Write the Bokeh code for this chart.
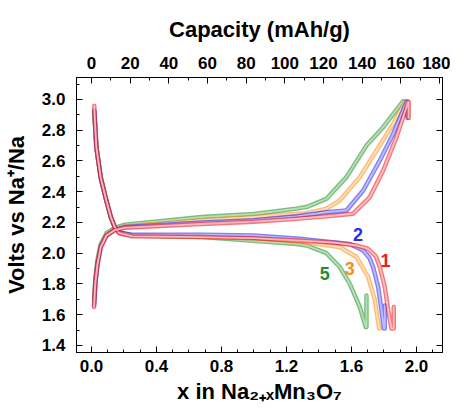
from bokeh.plotting import figure
from bokeh.models import Range1d, LinearAxis, Label, FixedTicker, NumeralTickFormatter
from bokeh.embed import file_html
from bokeh.resources import INLINE

# ---- data (x in Na2+xMn3O7, voltage) ----
# discharge curves
dis1_x = [0.017, 0.02, 0.03, 0.057, 0.092, 0.119, 0.143, 0.17, 0.25, 0.68, 1.0, 1.32, 1.5, 1.63, 1.70, 1.75, 1.774, 1.805, 1.826, 1.846, 1.86, 1.86]
dis1_y = [2.96, 2.88, 2.69, 2.49, 2.34, 2.235, 2.17, 2.13, 2.11, 2.105, 2.098, 2.08, 2.068, 2.05, 2.03, 1.98, 1.91, 1.78, 1.628, 1.51, 1.51, 1.65]
dis2_x = [0.017, 0.02, 0.03, 0.057, 0.092, 0.119, 0.143, 0.17, 0.25, 0.68, 1.0, 1.32, 1.59, 1.672, 1.71, 1.733, 1.764, 1.785, 1.799, 1.805, 1.805]
dis2_y = [2.93, 2.88, 2.69, 2.49, 2.34, 2.235, 2.17, 2.135, 2.12, 2.12, 2.115, 2.09, 2.06, 2.018, 1.97, 1.91, 1.78, 1.628, 1.51, 1.51, 1.66]
dis3_x = [0.017, 0.03, 0.057, 0.092, 0.119, 0.143, 0.17, 0.25, 0.68, 1.0, 1.32, 1.528, 1.631, 1.703, 1.744, 1.77, 1.775]
dis3_y = [2.92, 2.69, 2.49, 2.34, 2.235, 2.17, 2.135, 2.115, 2.11, 2.1, 2.07, 2.04, 1.975, 1.845, 1.693, 1.51, 1.51]
dis5_x = [0.017, 0.03, 0.057, 0.092, 0.119, 0.143, 0.17, 0.25, 0.68, 1.097, 1.26, 1.323, 1.446, 1.528, 1.59, 1.651, 1.688, 1.692, 1.692]
dis5_y = [2.92, 2.69, 2.49, 2.34, 2.235, 2.17, 2.135, 2.115, 2.105, 2.072, 2.06, 2.05, 2.0, 1.91, 1.80, 1.65, 1.52, 1.52, 1.725]

# charge curves
chg1_x = [0.016, 0.02, 0.025, 0.037, 0.057, 0.092, 0.143, 0.205, 0.677, 1.0, 1.26, 1.446, 1.61, 1.713, 1.795, 1.877, 1.949, 1.952, 1.952]
chg1_y = [1.65, 1.75, 1.82, 1.93, 2.04, 2.115, 2.15, 2.165, 2.19, 2.205, 2.224, 2.24, 2.257, 2.365, 2.538, 2.755, 2.985, 2.985, 2.88]
chg2_x = [0.016, 0.025, 0.037, 0.057, 0.092, 0.143, 0.205, 0.677, 1.0, 1.26, 1.446, 1.569, 1.672, 1.774, 1.857, 1.938, 1.944, 1.944]
chg2_y = [1.66, 1.82, 1.93, 2.04, 2.115, 2.152, 2.17, 2.20, 2.215, 2.24, 2.267, 2.278, 2.408, 2.603, 2.777, 2.985, 2.985, 2.88]
chg3_x = [0.016, 0.025, 0.037, 0.057, 0.092, 0.143, 0.205, 0.677, 1.0, 1.26, 1.323, 1.446, 1.528, 1.651, 1.754, 1.857, 1.932, 1.936, 1.936]
chg3_y = [1.68, 1.83, 1.94, 2.05, 2.12, 2.155, 2.175, 2.215, 2.235, 2.257, 2.26, 2.29, 2.343, 2.495, 2.668, 2.842, 2.99, 2.99, 2.90]
chg5_x = [0.016, 0.025, 0.037, 0.057, 0.092, 0.143, 0.205, 0.677, 1.0, 1.26, 1.323, 1.446, 1.569, 1.692, 1.795, 1.918, 1.922]
chg5_y = [1.70, 1.85, 1.96, 2.06, 2.13, 2.165, 2.185, 2.235, 2.255, 2.29, 2.30, 2.354, 2.495, 2.70, 2.82, 2.99, 2.95]

cycle_names = ["5", "3", "2", "1"]
label_x = [1.436, 1.59, 1.64, 1.81]
label_y = [1.866, 1.90, 2.12, 1.95]

x_ticks = [0.0, 0.4, 0.8, 1.2, 1.6, 2.0]
x_minor = [-0.1, 0.1, 0.2, 0.3, 0.5, 0.6, 0.7, 0.9, 1.0, 1.1, 1.3, 1.4, 1.5, 1.7, 1.8, 1.9, 2.1]
y_ticks = [1.4, 1.6, 1.8, 2.0, 2.2, 2.4, 2.6, 2.8, 3.0]
y_minor = [1.5, 1.7, 1.9, 2.1, 2.3, 2.5, 2.7, 2.9, 3.1]
cap_ticks = [0, 20, 40, 60, 80, 100, 120, 140, 160, 180]
cap_minor = [10, 30, 50, 70, 90, 110, 130, 150, 170]
cap_per_x = 84.05  # mAh/g per unit x

# ---- styling ----
FONT = "Liberation Sans"
edge = {"1": "#ec1c24", "2": "#2a2af2", "3": "#f7901e", "5": "#23902a"}
fill = {"1": "#fac4ca", "2": "#c4c4ff", "3": "#ffe0b8", "5": "#bfe3bf"}

x0, x1 = -0.0923, 2.160
y0, y1 = 1.354, 3.143

p = figure(frame_width=366, frame_height=275, output_backend="svg", toolbar_location=None,
           x_range=Range1d(x0, x1), y_range=Range1d(y0, y1),
           min_border_left=76, min_border_top=77, min_border_bottom=40, min_border_right=8)
p.grid.visible = False
p.outline_line_color = "black"
p.outline_line_width = 1
p.background_fill_color = "white"
p.border_fill_color = "white"

p.extra_x_ranges = {"cap": Range1d(x0 * cap_per_x, x1 * cap_per_x)}

def style_axis(ax, show_labels=True):
    ax.axis_line_color = "black"
    ax.major_tick_in = 6
    ax.major_tick_out = 0
    ax.minor_tick_in = 3
    ax.minor_tick_out = 0
    ax.major_tick_line_color = "black"
    ax.minor_tick_line_color = "black"
    ax.major_label_text_font = FONT
    ax.major_label_text_font_style = "bold"
    ax.major_label_text_font_size = "17px"
    ax.major_label_text_color = "black"
    ax.axis_label_text_font = FONT
    ax.axis_label_text_font_style = "bold"
    ax.axis_label_text_font_size = "22px"
    ax.axis_label_text_color = "black"
    if not show_labels:
        ax.major_label_text_font_size = "0px"
        ax.major_label_text_color = None

xa = p.xaxis[0]
style_axis(xa)
xa.ticker = FixedTicker(ticks=x_ticks, minor_ticks=x_minor)
xa.formatter = NumeralTickFormatter(format="0.0")
xa.axis_label = "x in Na₂₊ₓMn₃O₇"
xa.major_label_standoff = 7
xa.axis_label_standoff = 4

ya = p.yaxis[0]
style_axis(ya)
ya.ticker = FixedTicker(ticks=y_ticks, minor_ticks=y_minor)
ya.formatter = NumeralTickFormatter(format="0.0")
ya.axis_label = "Volts vs Na⁺/Na"
ya.major_label_standoff = 11
ya.axis_label_standoff = 10

top = LinearAxis(x_range_name="cap", axis_label="Capacity (mAh/g)")
style_axis(top)
top.ticker = FixedTicker(ticks=cap_ticks, minor_ticks=cap_minor)
top.major_label_standoff = 9
top.axis_label_standoff = 12
p.add_layout(top, "above")

right = LinearAxis()
style_axis(right, show_labels=False)
right.ticker = FixedTicker(ticks=y_ticks, minor_ticks=[])
right.major_label_standoff = 0
p.add_layout(right, "right")

curves = [
    ("5", dis5_x, dis5_y, chg5_x, chg5_y),
    ("3", dis3_x, dis3_y, chg3_x, chg3_y),
    ("2", dis2_x, dis2_y, chg2_x, chg2_y),
    ("1", dis1_x, dis1_y, chg1_x, chg1_y),
]
for name, dx, dy, cx, cy in curves:
    for xs, ys in ((dx, dy), (cx, cy)):
        p.line(xs, ys, line_color=edge[name], line_width=4.5, line_alpha=0.6, line_join="round", line_cap="round")
        p.line(xs, ys, line_color=fill[name], line_width=1.8, line_alpha=0.9, line_join="round", line_cap="round")

for name, lx, ly in zip(cycle_names, label_x, label_y):
    p.add_layout(Label(x=lx, y=ly, text=name, text_color=edge[name], text_font=FONT,
                       text_font_style="bold", text_font_size="18px",
                       text_align="center", text_baseline="middle"))

open("out.html", "w").write(file_html(p, INLINE))
